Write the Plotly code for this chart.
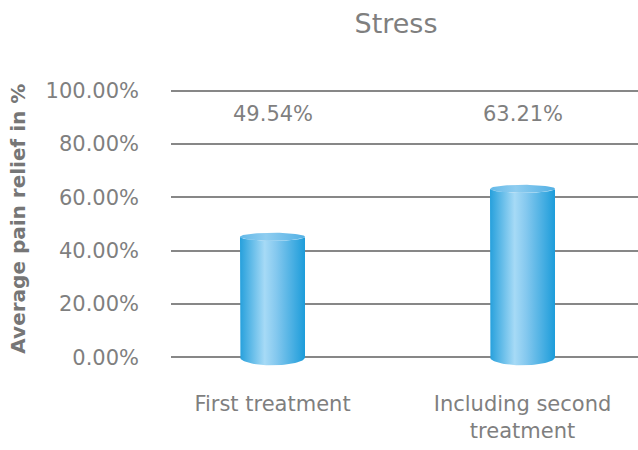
import numpy as np
import plotly.graph_objects as go

categories = ["First treatment", "Including second<br>treatment"]
values = [45.2, 63.2]          # bar heights as drawn (% relief)
value_labels = ["49.54%", "63.21%"]
y_ticks = [0, 20, 40, 60, 80, 100]
y_tick_labels = ["0.00%", "20.00%", "40.00%", "60.00%", "80.00%", "100.00%"]
title_text = "Stress"
y_title = "Average pain relief in %"

FONT = "DejaVu Sans"
GRAY = "#7f7f7f"

# geometry (layout, not data)
half_w = 0.13
ry_top = 1.5
ry_bot = 3.0

body_scale = [[0.0, "#26a0dc"], [0.38, "#a6daf6"], [0.55, "#86c9ef"], [1.0, "#1c9cda"]]
cap_scale = [[0.0, "#64b9e8"], [0.4, "#8fcdf0"], [1.0, "#52b0e4"]]

fig = go.Figure()
t = np.linspace(0, np.pi, 40)
for i, v in enumerate(values):
    x0, x1 = i - half_w, i + half_w
    bx = np.cos(np.pi - t) * half_w + i
    by = -np.sin(t) * ry_bot
    xs = [x0, x0] + list(bx) + [x1, x1]
    ys = [v, 0] + list(by) + [0, v]
    tx = np.cos(t) * half_w + i
    ty = v - np.sin(t) * ry_top
    xs += list(tx)
    ys += list(ty)
    fig.add_trace(go.Scatter(
        x=xs, y=ys, mode="lines", fill="toself", line=dict(width=0),
        fillgradient=dict(type="horizontal", colorscale=body_scale),
        hoverinfo="skip", showlegend=False, cliponaxis=False))
    ct = np.linspace(0, 2 * np.pi, 80)
    fig.add_trace(go.Scatter(
        x=np.cos(ct) * half_w + i, y=v + np.sin(ct) * ry_top,
        mode="lines", fill="toself", line=dict(width=0),
        fillgradient=dict(type="horizontal", colorscale=cap_scale),
        hoverinfo="skip", showlegend=False, cliponaxis=False))

for i, lab in enumerate(value_labels):
    fig.add_annotation(x=i, xref="x", y=0.885, yref="paper", text=lab,
                       xanchor="center", yanchor="middle",
                       showarrow=False, font=dict(family=FONT, size=21, color=GRAY))

fig.add_annotation(x=(18 - 171) / 467, xref="paper", y=0.53, yref="paper",
                   xanchor="center", yanchor="middle",
                   text="<b>" + y_title + "</b>", textangle=-90, showarrow=False,
                   font=dict(family=FONT, size=20, color="#767676"))

fig.update_layout(
    width=638, height=450,
    margin=dict(l=171, r=0, t=80, b=75),
    paper_bgcolor="white", plot_bgcolor="white",
    title=dict(text=title_text, x=396 / 638, xref="container", xanchor="center",
               y=1 - 24 / 450, yref="container", yanchor="middle",
               font=dict(family=FONT, size=27, color=GRAY)),
    xaxis=dict(range=[-0.406, 1.462], tickvals=[0, 1], ticktext=categories,
               showgrid=False, zeroline=False, showline=False, ticks="",
               tickfont=dict(family=FONT, size=21, color=GRAY),
               ticklabelstandoff=14, fixedrange=True),
    yaxis=dict(range=[-6.64, 104.0], tickvals=y_ticks, ticktext=y_tick_labels,
               showgrid=True, gridcolor="#878787", gridwidth=2,
               zeroline=False, showline=False, ticks="",
               tickfont=dict(family=FONT, size=21, color=GRAY),
               ticklabelstandoff=31, fixedrange=True),
)

fig.write_html("out.html")
